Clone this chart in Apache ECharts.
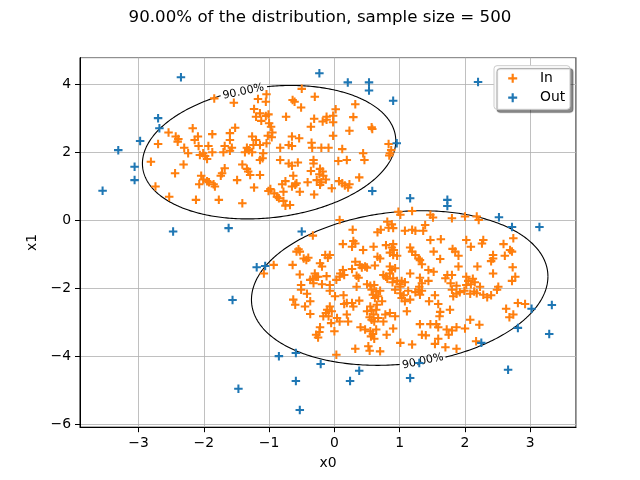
<!DOCTYPE html>
<html><head><meta charset="utf-8">
<script src="https://cdn.jsdelivr.net/npm/echarts@6/dist/echarts.min.js"></script>
<style>html,body{margin:0;padding:0;background:#fff}#c{width:640px;height:480px}</style>
</head><body><div id="c"></div>
<script>
const titleText = '90.00% of the distribution, sample size = 500';
const xName = 'x0';
const yName = 'x1';
const seriesNames = ['In', 'Out'];

// points inside the 90% level set
const inPoints = [
[-1.84,3.58],[-1.54,3.45],[-1.17,3.56],[-1.05,3.48],[-1.23,3.27],[-1.14,3.14],[-1.20,3.04],[-1.05,3.06],[-1.12,2.92],[-1.52,2.72],[-2.17,2.70],[-2.54,2.58],[-1.87,2.53],[-2.43,2.46],[-2.39,2.39],[-2.40,2.31],[-2.09,2.46],[-2.14,2.36],[-1.60,2.56],[-1.60,2.36],[-1.26,2.46],[-1.20,2.36],[-1.02,2.48],[-1.04,2.26],[-2.70,2.24],[-2.30,2.13],[-2.08,2.18],[-1.93,2.18],[-1.68,2.18],[-1.57,2.13],[-1.34,2.13],[-1.24,2.21],[-1.14,2.21],
[-0.50,3.86],[-0.30,3.63],[-0.64,3.53],[-0.61,3.48],[-0.51,3.31],[-1.04,3.70],[0.02,3.26],[0.32,3.41],[-0.74,3.04],[-1.01,3.11],[-0.31,2.98],[-0.12,3.04],[-0.02,3.07],[-0.18,2.90],[-0.12,2.95],[-0.02,2.88],[0.29,3.03],[-1.00,2.85],[-0.97,2.75],[-0.36,2.75],[0.57,2.73],[0.58,2.68],[0.23,2.63],[-0.95,2.58],[-0.96,2.44],[-0.65,2.46],[-0.54,2.41],[-0.02,2.48],[-0.83,2.13],[-0.70,2.21],[-0.65,2.18],[-0.35,2.28],[-0.34,2.13],[-0.20,2.13],[-0.09,2.13],[0.12,2.09],[0.83,2.24],
[-2.24,1.97],[-2.06,1.92],[-1.98,1.89],[-2.01,1.97],[-1.95,1.80],[-1.87,2.00],[-1.60,2.04],[-1.70,2.00],[-1.31,2.06],[-1.37,2.00],[-1.26,2.00],[-1.09,1.97],[-1.14,1.77],[-1.10,1.82],[-2.81,1.72],[-2.31,1.64],[-2.44,1.38],[-1.68,1.53],[-1.72,1.38],[-1.74,1.31],[-1.41,1.64],[-1.34,1.51],[-1.32,1.43],[-1.29,1.33],[-1.14,1.33],[-2.04,1.31],[-2.01,1.20],[-1.95,1.15],[-2.07,1.06],[-1.92,1.12],[-1.85,1.06],[-1.83,0.99],[-1.49,1.18],[-1.23,0.96],[-2.74,0.99],[-2.53,0.69],[-2.12,0.60],[-1.77,0.60],[-1.41,0.50],[-1.01,0.86],
[0.44,1.97],[0.46,1.77],[-0.83,1.77],[-0.70,1.67],[-0.65,1.60],[-0.56,1.70],[-0.32,1.77],[-0.32,1.67],[0.06,1.74],[0.19,1.77],[0.85,1.97],[0.84,1.90],[0.87,2.06],[-0.36,1.45],[-0.22,1.51],[-0.18,1.43],[-0.23,1.35],[-0.17,1.31],[-0.63,1.31],[-0.75,1.15],[-0.80,1.06],[-0.58,1.09],[-0.60,1.04],[-0.65,0.99],[-0.41,1.12],[-0.27,1.18],[-0.13,1.20],[-0.20,1.12],[0.07,1.15],[0.12,1.09],[0.16,1.02],[0.21,0.96],[0.23,1.06],[0.38,1.26],[-0.04,0.94],[-0.98,0.92],[-0.92,0.79],[-0.88,0.69],[-0.85,0.65],[-0.78,0.84],[-0.78,0.57],[-0.68,0.45],[-0.53,0.84],[-0.31,0.76],[-0.22,1.04],[-0.75,0.43],
[0.08,0.01],[-0.33,-0.45],[0.13,-0.70],[-0.55,-0.85],[-0.53,-0.92],[-0.58,-0.92],[-0.47,-1.12],[-0.40,-1.10],[-0.43,-1.17],[-0.64,-1.31],[-0.14,-1.02],[-0.07,-1.02],[-0.10,-1.10],[-0.22,-1.26],[-0.19,-1.36],[-0.93,-1.31],[-1.08,-1.56],[-0.53,-1.59],[-0.30,-1.56],[-0.28,-1.66],[-0.25,-1.66],[-0.33,-1.72],[-0.37,-1.75],[-0.12,-1.64],[0.13,-1.46],[0.09,-1.56],[0.15,-1.61],[0.08,-1.66],[0.03,-1.75],[-0.19,-1.88],[-0.07,-1.90],[-0.51,-1.90],[-0.32,-1.85],
[0.98,0.25],[1.01,0.16],[1.19,0.27],[1.47,0.16],[1.51,0.08],[0.81,-0.04],[0.88,-0.12],[0.90,-0.23],[0.83,-0.22],[0.28,-0.28],[0.71,-0.28],[0.66,-0.35],[1.08,-0.31],[1.19,-0.28],[1.24,-0.31],[1.39,-0.14],[1.36,-0.31],[1.47,-0.58],[1.63,-0.56],[0.29,-0.61],[0.32,-0.68],[0.27,-0.78],[0.79,-0.73],[0.90,-0.70],[0.88,-0.80],[0.91,-0.87],[0.85,-0.95],[0.90,-1.02],[0.96,-1.04],[0.60,-0.78],[0.44,-0.87],[1.16,-0.80],[1.19,-0.92],[1.24,-1.02],[1.29,-1.12],[1.31,-1.17],[1.34,-1.29],[1.52,-0.92],[0.66,-1.07],[0.70,-1.12],[1.62,-1.14],[0.32,-1.22],[0.39,-1.31],[0.42,-1.39],[0.47,-1.36],[0.50,-1.39],[0.62,-1.33],[0.85,-1.36],[0.88,-1.46],[0.93,-1.41],[1.44,-1.46],[1.52,-1.51],[0.27,-1.43],[0.75,-1.61],[0.79,-1.66],[0.85,-1.56],[0.81,-1.72],[0.90,-1.70],[0.89,-1.82],[0.96,-1.78],[1.00,-1.88],[1.01,-1.95],[1.03,-1.78],[1.08,-1.82],[1.16,-1.56],[0.34,-1.63],[0.37,-1.69],[1.31,-1.69],[1.34,-1.85],[1.30,-1.95],[1.73,-1.61],[1.70,-1.70],[1.44,-1.78],[0.50,-1.88],[0.55,-1.92],[0.61,-1.90],[0.34,-1.95],
[1.80,0.06],[2.00,0.11],[2.18,0.11],[2.21,0.01],[2.02,-0.58],[2.09,-0.78],[2.28,-0.58],[2.26,-0.68],[2.74,-0.53],[2.59,-0.70],[2.61,-1.04],[2.69,-0.87],[2.72,-0.92],[1.81,-0.84],[1.85,-0.92],[1.90,-1.04],[2.43,-1.02],[2.43,-1.12],[2.40,-1.20],[1.90,-1.36],[2.19,-1.36],[2.73,-1.38],[2.43,-1.56],[2.77,-1.66],[2.72,-1.78],[2.02,-1.66],[2.05,-1.78],[2.12,-1.72],[2.15,-1.82],[2.09,-1.88],[2.23,-1.95],[2.02,-1.90],[1.80,-1.61],[1.78,-1.85],[2.51,-1.95],[1.87,-1.92],
[-0.51,-2.04],[-0.42,-2.16],[-0.37,-2.38],[-0.45,-2.53],[-0.63,-2.33],[-0.60,-2.48],[-0.37,-2.75],[-0.07,-2.07],[0.01,-2.23],[0.14,-2.20],[0.19,-2.43],[0.15,-2.46],[-0.07,-2.53],[-0.11,-2.63],[-0.13,-2.72],[-0.04,-2.67],[-0.09,-2.82],[-0.17,-2.82],[0.04,-2.87],[0.08,-2.97],[-0.05,-3.02],[0.19,-2.77],[0.21,-2.97],[-0.22,-3.14],[-0.23,-3.28],[0.00,-3.26],[-0.28,-3.36],[-0.25,-3.44],[0.03,-3.95],
[0.57,-2.04],[0.64,-2.09],[0.70,-2.07],[0.59,-2.19],[0.67,-2.23],[0.62,-2.28],[0.73,-2.38],[0.65,-2.48],[0.55,-2.53],[0.50,-2.67],[0.57,-2.65],[0.64,-2.63],[0.60,-2.77],[0.54,-2.85],[0.57,-2.92],[0.67,-2.87],[0.61,-2.97],[0.78,-2.77],[0.85,-2.72],[0.93,-2.82],[0.38,-2.36],[0.27,-2.43],[0.29,-2.53],[0.75,-2.97],[0.90,-3.18],[0.80,-3.36],[0.40,-3.14],[0.47,-3.21],[0.55,-3.26],[0.59,-3.34],[0.56,-3.41],[0.61,-3.48],[0.64,-3.21],[1.01,-3.60],[1.19,-3.65],[0.32,-3.77],[0.52,-3.70],[0.54,-3.83],[0.70,-3.85],[0.93,-2.04],[1.01,-2.14],[1.03,-2.28],[1.08,-2.38],[1.06,-2.20],[1.13,-2.07],[1.24,-2.11],[1.31,-2.19],[1.34,-2.07],[1.29,-2.04],[1.45,-2.38],[1.54,-2.20],[1.59,-2.46],[1.11,-2.67],[1.62,-2.69],[1.61,-2.82],[1.31,-3.05],[1.47,-3.05],[1.56,-3.05],[1.59,-3.14],[1.34,-3.36],[1.40,-3.38],[1.72,-3.21],[1.75,-3.36],[1.59,-3.48],[1.54,-3.63],[1.70,-3.73],[1.16,-2.33],
[1.80,-2.04],[1.87,-2.16],[1.92,-2.11],[1.99,-2.07],[2.08,-2.16],[2.14,-2.09],[2.18,-2.14],[2.28,-2.19],[2.34,-2.26],[2.40,-2.20],[2.49,-2.04],[1.82,-2.23],[1.77,-2.63],[2.63,-2.60],[2.68,-2.85],[2.74,-2.77],[2.81,-2.43],[2.92,-2.46],[2.08,-2.92],[2.22,-3.07],[1.87,-3.14],[2.00,-3.18],[1.80,-3.24],[2.17,-3.55],[1.87,-3.77]
];

// points outside the 90% level set
const outPoints = [
[-2.35,4.20],[-0.23,4.32],[-2.70,3.00],[-2.68,2.70],[-2.975,2.33],[-3.31,2.06],[-3.06,1.57],[-3.06,1.18],[-3.55,0.87],[-2.47,-0.33],
[0.205,4.05],[0.53,4.05],[0.53,3.81],[0.90,3.51],[0.955,2.26],[0.58,0.86],[2.20,4.06],[2.52,0.09],[2.72,-0.20],[3.14,-0.20],
[1.73,0.60],[1.73,0.42],[1.16,0.65],[-0.50,-0.33],[-1.19,-1.38],[-1.06,-1.34],[-0.85,-3.99],[-0.59,-3.90],[-0.21,-4.22],[0.38,-4.42],
[1.30,-4.19],[3.02,-2.60],[2.81,-3.16],[2.25,-3.60],[2.66,-4.39],[3.29,-3.34],[3.33,-2.49],[-1.56,-2.34],[-1.47,-4.95],[-0.59,-4.72],
[-0.53,-5.57],[0.24,-4.72],[1.16,-4.63],[-1.62,-0.23]
];

// 90% level-set contours: centre x, centre y, half-width, half-height, tilt coefficient
const contourShapes = [
[-1.00, 2.00, 1.94, 1.96, 0.17],
[1.00, -1.99, 2.27, 2.27, 0.15]
];
// contour labels: x, y, rotation (deg)
const contourLabelPos = [
[-1.394, 3.777, 12],
[1.354, -4.141, 12]
];
const contourLabelText = '90.00%';

const plusPath = 'path://M3.8,0H6.2V3.8H10V6.2H6.2V10H3.8V6.2H0V3.8H3.8Z';
const FONT = 'DejaVu Sans';
const fmt = v => {
  if (Math.abs(v - Math.round(v)) > 1e-6) return '';
  const r = Math.round(v);
  return r < 0 ? '\u2212' + Math.abs(r) : String(r);
};

const contourData = contourShapes.map((s, i) => s.concat(contourLabelPos[i]));

const chart = echarts.init(document.getElementById('c'), null, {renderer: 'canvas'});
chart.setOption({
  animation: false,
  backgroundColor: '#fff',
  title: {
    text: titleText, left: 'center', top: 9, padding: 0,
    textStyle: {fontFamily: FONT, fontSize: 16.67, fontWeight: 'normal', color: '#000'}
  },
  legend: {
    orient: 'vertical', left: 494, top: 65.7,
    padding: [4.6, 4.8, 3.6, 14.2],
    itemWidth: 9, itemHeight: 9, itemGap: 3.4,
    backgroundColor: '#fff', borderColor: '#cccccc', borderWidth: 1, borderRadius: 3,
    shadowColor: 'rgba(0,0,0,0.45)', shadowBlur: 1, shadowOffsetX: 3, shadowOffsetY: 3,
    selectedMode: false,
    textStyle: {fontFamily: FONT, fontSize: 13.9, color: '#000', lineHeight: 16, padding: [0, 0, 0, 17.8]},
    data: [{name: seriesNames[0], icon: plusPath}, {name: seriesNames[1], icon: plusPath}]
  },
  grid: {left: 80, right: 64, top: 57.6, bottom: 52.8, show: true, borderColor: '#000', borderWidth: 1, backgroundColor: 'transparent'},
  xAxis: {
    type: 'value', min: -3.896, max: 3.700, splitNumber: 7,
    name: xName, nameLocation: 'middle', nameGap: 29,
    nameTextStyle: {fontFamily: FONT, fontSize: 13.9, color: '#000'},
    axisLine: {show: true, onZero: false, lineStyle: {color: '#000', width: 1}},
    axisTick: {show: true, inside: false, length: 5, lineStyle: {color: '#000', width: 1}},
    axisLabel: {margin: 9.5, color: '#000', fontFamily: FONT, fontSize: 13.9, formatter: fmt, showMinLabel: false, showMaxLabel: false},
    splitLine: {show: true, lineStyle: {color: '#b0b0b0', width: 0.8}}
  },
  yAxis: {
    type: 'value', min: -6.077, max: 4.778, splitNumber: 5,
    name: yName, nameLocation: 'middle', nameGap: 32, nameRotate: 90,
    nameTextStyle: {fontFamily: FONT, fontSize: 13.9, color: '#000'},
    axisLine: {show: true, onZero: false, lineStyle: {color: '#000', width: 1}},
    axisTick: {show: true, inside: false, length: 5, lineStyle: {color: '#000', width: 1}},
    axisLabel: {margin: 9, color: '#000', fontFamily: FONT, fontSize: 13.9, formatter: fmt, showMinLabel: false, showMaxLabel: false},
    splitLine: {show: true, lineStyle: {color: '#b0b0b0', width: 0.8}}
  },
  series: [
    {
      type: 'custom', name: 'contour', z: 1, silent: true,
      data: contourData,
      renderItem: function (params, api) {
        const cx = api.value(0), cy = api.value(1), ax = api.value(2), ay = api.value(3), rho = api.value(4);
        const lp = api.coord([api.value(5), api.value(6)]);
        const rot = api.value(7) * Math.PI / 180;
        const N = 400, segs = [];
        let cur = [];
        for (let i = 0; i <= N; i++) {
          const t = 2 * Math.PI * i / N;
          const x = cx + ax * Math.cos(t);
          const y = cy + ay * (rho * Math.cos(t) + Math.sqrt(1 - rho * rho) * Math.sin(t));
          const p = api.coord([x, y]);
          if (Math.hypot(p[0] - lp[0], p[1] - lp[1]) < 23) {
            if (cur.length > 1) segs.push(cur);
            cur = [];
          } else cur.push(p);
        }
        if (cur.length > 1) segs.push(cur);
        const children = segs.map(s => ({type: 'polyline', shape: {points: s}, style: {stroke: '#000', lineWidth: 1.1, fill: null}}));
        children.push({
          type: 'text', x: lp[0], y: lp[1], rotation: rot,
          style: {text: contourLabelText, fontFamily: FONT, fontSize: 11, fill: '#000', align: 'center', verticalAlign: 'middle'}
        });
        return {type: 'group', children: children};
      }
    },
    {
      type: 'scatter', name: seriesNames[0], z: 3, data: inPoints,
      symbol: plusPath, symbolSize: 8.5, itemStyle: {color: '#ff7f0e', opacity: 1}
    },
    {
      type: 'scatter', name: seriesNames[1], z: 4, data: outPoints,
      symbol: plusPath, symbolSize: 8.5, itemStyle: {color: '#1f77b4', opacity: 1}
    }
  ]
});
</script>
</body></html>
